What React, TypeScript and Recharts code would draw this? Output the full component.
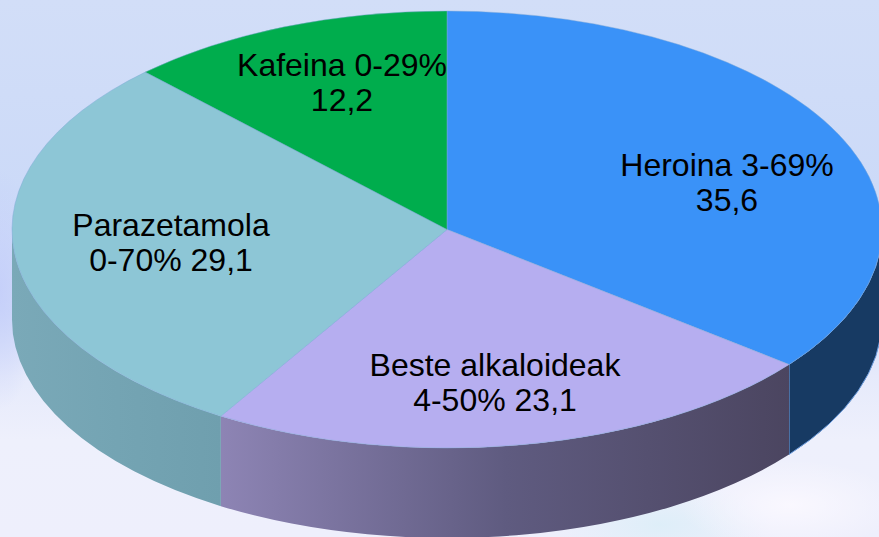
import { Pie, PieChart } from "recharts";

const names = ["Heroina", "Beste alkaloideak", "Parazetamola", "Kafeina"];
const values = [35.6, 23.1, 29.1, 12.2];
const labelRows = [
  ["Heroina 3-69%", "35,6"],
  ["Beste alkaloideak", "4-50% 23,1"],
  ["Parazetamola", "0-70% 29,1"],
  ["Kafeina 0-29%", "12,2"],
];
const topColors = ["#3a92f8", "#b6aef0", "#8dc6d6", "#00ad4d"];

// wall shading, left to right
const wallStops = [
  ["#173a63", "#173a63", "#173a63"],
  ["#8d84b4", "#5f5b80", "#4b4560"],
  ["#7aa9b8", "#74a4b3", "#6f9fae"],
  ["#00ad4d", "#00ad4d", "#00ad4d"],
];
const wallSpans = [
  [790, 879],
  [222, 790],
  [12, 222],
  [147, 447],
];
const wallStrokes = ["#6f9fe0", "none", "none", "none"];

// label anchor for each slice
const labelAnchors = [
  [727, 176],
  [495, 376],
  [171, 236],
  [342, 76],
];

const WIDTH = 879;
const HEIGHT = 537;
const CX = 447;
const CY = 229.5;
const RX = 435;
const RY = 218.5;
const DEPTH = 90;
const RAD = Math.PI / 180;

const chartData = names.map((name, i) => ({ name, value: values[i], index: i }));

function point(angle: number, rx: number, ry: number, cx: number, cy: number) {
  return `${cx + rx * Math.cos(angle * RAD)} ${cy - ry * Math.sin(angle * RAD)}`;
}

// Recharts sectors are circular, the tilted disc needs an ellipse
function TiltedSector(props: any) {
  const { cx, cy, startAngle, endAngle, outerRadius, payload } = props;
  const rx = outerRadius;
  const ry = (outerRadius * RY) / RX;
  const i = payload?.index ?? props.index ?? 0;
  const large = Math.abs(startAngle - endAngle) > 180 ? 1 : 0;
  const top =
    `M ${cx} ${cy} L ${point(startAngle, rx, ry, cx, cy)} ` +
    `A ${rx} ${ry} 0 ${large} 1 ${point(endAngle, rx, ry, cx, cy)} Z`;

  // only the front half of the rim shows
  const wallStart = Math.min(startAngle, 0);
  const wallEnd = Math.max(endAngle, -180);
  const wall =
    wallStart > wallEnd
      ? `M ${point(wallStart, rx, ry, cx, cy)} ` +
        `A ${rx} ${ry} 0 0 1 ${point(wallEnd, rx, ry, cx, cy)} ` +
        `L ${point(wallEnd, rx, ry, cx, cy + DEPTH)} ` +
        `A ${rx} ${ry} 0 0 0 ${point(wallStart, rx, ry, cx, cy + DEPTH)} Z`
      : null;

  return (
    <g>
      {wall && <path d={wall} fill={`url(#wall-${i})`} stroke={wallStrokes[i]} strokeWidth={1} />}
      <path d={top} fill={topColors[i]} stroke="#7fa8d8" strokeWidth={1} strokeOpacity={0.45} />
    </g>
  );
}

function SliceLabel(props: any) {
  const i = props.index ?? 0;
  const [x, y] = labelAnchors[i];
  return (
    <text x={x} y={y} textAnchor="middle" fill="#000000" fontSize={32} fontFamily="Liberation Sans, Arial, sans-serif">
      <tspan x={x}>{labelRows[i][0]}</tspan>
      <tspan x={x} dy={35}>
        {labelRows[i][1]}
      </tspan>
    </text>
  );
}

const pageBackground = [
  "radial-gradient(ellipse 110px 45px at 790px 505px, rgba(250,248,255,0.95), rgba(250,248,255,0))",
  "radial-gradient(ellipse 110px 45px at 660px 525px, rgba(220,238,248,0.9), rgba(220,238,248,0))",
  "radial-gradient(ellipse 40px 120px at 0px 290px, rgba(195,205,250,0.8), rgba(195,205,250,0))",
  "linear-gradient(180deg, #d2def8 0%, #ccdaf8 35%, #d2dcf9 58%, #e6eafb 70%, #eef0fc 82%, #eeeffc 100%)",
].join(", ");

export default function App() {
  return (
    <div
      style={{
        position: "absolute",
        left: 0,
        top: 0,
        width: WIDTH,
        height: HEIGHT,
        overflow: "hidden",
        background: pageBackground,
      }}
    >
      <PieChart width={WIDTH} height={HEIGHT} margin={{ top: 0, right: 0, bottom: 0, left: 0 }}>
        <defs>
          {wallStops.map((stops, i) => (
            <linearGradient
              key={names[i]}
              id={`wall-${i}`}
              gradientUnits="userSpaceOnUse"
              x1={wallSpans[i][0]}
              y1="0"
              x2={wallSpans[i][1]}
              y2="0"
            >
              <stop offset="0%" stopColor={stops[0]} />
              <stop offset="50%" stopColor={stops[1]} />
              <stop offset="100%" stopColor={stops[2]} />
            </linearGradient>
          ))}
        </defs>
        <Pie
          data={chartData}
          dataKey="value"
          nameKey="name"
          cx={CX}
          cy={CY}
          innerRadius={0}
          outerRadius={RX}
          startAngle={90}
          endAngle={-270}
          paddingAngle={0}
          stroke="none"
          shape={TiltedSector}
          label={SliceLabel}
          labelLine={false}
          isAnimationActive={false}
        />
      </PieChart>
    </div>
  );
}
